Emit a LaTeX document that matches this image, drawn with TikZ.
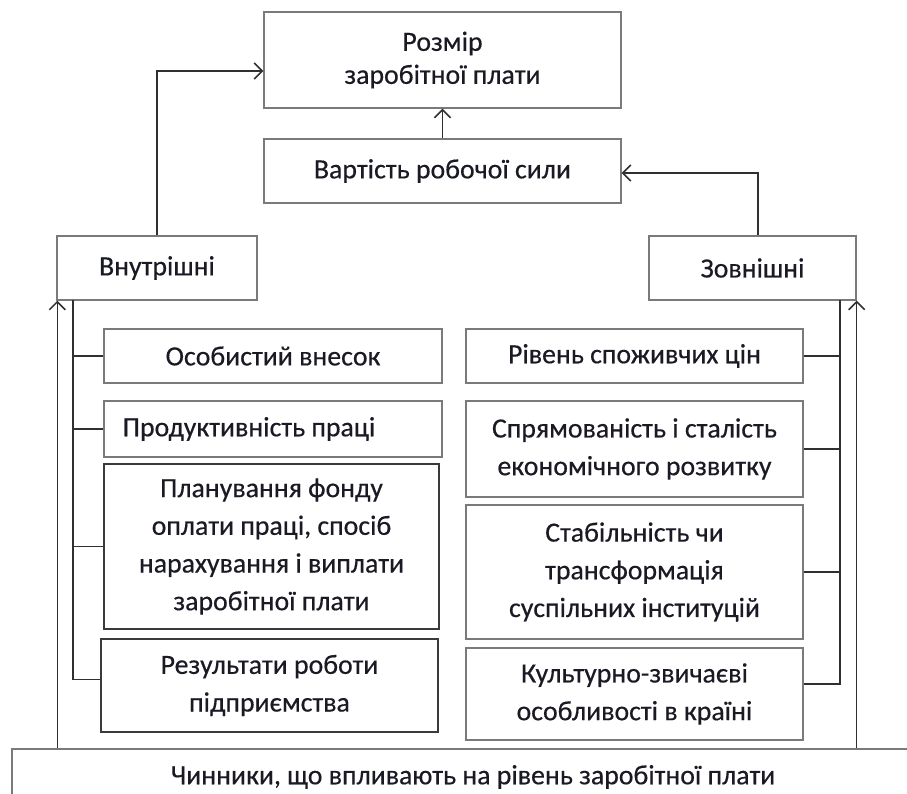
\documentclass[tikz,border=0pt]{standalone}
\usepackage{fontspec}
\setmainfont{Carlito}[FakeBold=0.4]
\usetikzlibrary{arrows.meta}
\definecolor{boxgray}{HTML}{7A7A7A}
\definecolor{boxdark}{HTML}{3A3A3A}
\definecolor{linec}{HTML}{303030}
\definecolor{txt}{HTML}{1A1A24}
\newcommand\bodyfont{\fontsize{27.8pt}{37.7pt}\selectfont}
\newcommand\topfont{\fontsize{27.8pt}{33pt}\selectfont}
\begin{document}
\begin{tikzpicture}[x=1pt,y=-1pt,
 bx/.style={draw=boxgray, line width=1.4pt, inner sep=0pt, align=center, text=txt, font=\bodyfont},
 dk/.style={draw=boxdark},
 conn/.style={draw=linec, line width=1.5pt},
 arr/.style={conn, -{Straight Barb[length=8pt,width=16pt,line width=1.5pt]}}]
\useasboundingbox (0,0) rectangle (907,793);
\fill[white] (0,0) rectangle (907,793);
\clip (0,0) rectangle (907,793);
% top boxes
\node[bx, minimum width=357pt, minimum height=96pt, font=\topfont] (rozmir) at (442.5,60) {Розмір\\заробітної плати};
\node[bx, minimum width=357pt, minimum height=64pt] (var) at (442.5,171) {Вартість робочої сили};
\node[bx, minimum width=200pt, minimum height=64pt] (vn) at (157,268) {Внутрішні};
\node[bx, minimum width=207pt, minimum height=64pt] (zv) at (752.5,268) {Зовнішні};
% left column
\node[bx, minimum width=338pt, minimum height=54pt] (b1) at (273,356) {Особистий внесок};
\node[bx, minimum width=338pt, minimum height=56pt] (b2) at (273,429) {Продуктивність праці\hspace*{48pt}};
\node[bx, dk, minimum width=335pt, minimum height=165pt] (b3) at (271.5,546.5) {Планування фонду\\оплати праці, спосіб\\нарахування і виплати\\заробітної плати};
\node[bx, dk, minimum width=337pt, minimum height=93pt] (b4) at (269.5,685.5) {Результати роботи\\підприємства};
% right column
\node[bx, minimum width=337pt, minimum height=54pt] (r1) at (634.5,356) {Рівень споживчих цін};
\node[bx, minimum width=337pt, minimum height=96pt] (r2) at (634.5,449) {Спрямованість і сталість\\економічного розвитку};
\node[bx, minimum width=337pt, minimum height=134pt] (r3) at (634.5,572) {Стабільність чи\\трансформація\\суспільних інституцій};
\node[bx, minimum width=337pt, minimum height=92pt] (r4) at (634.5,694) {Культурно-звичаєві\\особливості в країні};
% bottom box
\node[bx, minimum width=922pt, minimum height=56pt] (bot) at (473,777) {Чинники, що впливають на рівень заробітної плати};
% brackets
\coordinate (lb) at (73,300);
\coordinate (rb) at (840,300);
\draw[conn] (lb) |- ([yshift=6pt]b4.west);
\draw[conn] (b1.west) -- (b1.west -| lb);
\draw[conn] (b2.west) -- (b2.west -| lb);
\draw[conn] (b3.west) -- (b3.west -| lb);
\draw[conn] (rb) |- ([yshift=10pt]r4.east);
\draw[conn] (r1.east) -- (r1.east -| rb);
\draw[conn] (r2.east) -- (r2.east -| rb);
\draw[conn] (r3.east) -- (r3.east -| rb);
% arrows
\draw[arr] (vn.north) |- ([yshift=-11pt]rozmir.west);
\draw[arr] ([xshift=5.5pt]zv.north) |- ([yshift=-2pt]var.east);
\draw[arr] (var.north) -- (rozmir.south);
\draw[arr] ([xshift=1pt]vn.south west |- bot.north) -- ([xshift=1pt]vn.south west);
\draw[arr] (zv.south east |- bot.north) -- (zv.south east);
\end{tikzpicture}
\end{document}
